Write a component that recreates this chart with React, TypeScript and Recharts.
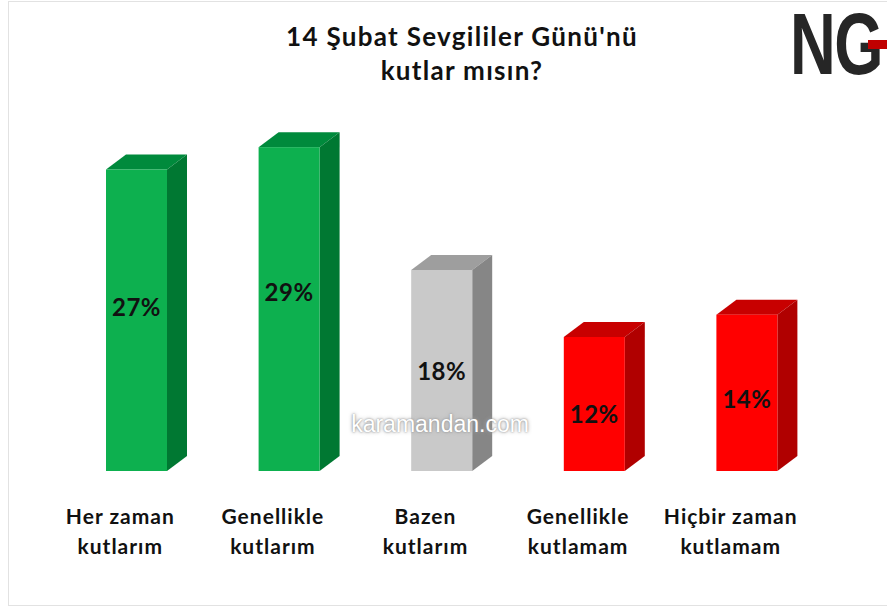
import { BarChart, Bar, XAxis, YAxis, LabelList } from 'recharts';

const categories = ['Her zaman|kutlarım', 'Genellikle|kutlarım', 'Bazen|kutlarım', 'Genellikle|kutlamam', 'Hiçbir zaman|kutlamam'];
const values = [27, 29, 18, 12, 14];
const labels = ['27%', '29%', '18%', '12%', '14%'];

// front / top / side shades per bar
const FRONT = ['#0db04f', '#0db04f', '#c9c9c9', '#ff0000', '#ff0000'];
const TOP = ['#008a3c', '#008a3c', '#9e9e9e', '#c80000', '#c80000'];
const SIDE = ['#007832', '#007832', '#868686', '#b00000', '#b00000'];

const data = categories.map((c, i) => ({ name: c, value: values[i], label: labels[i] }));

const DX = 20;
const DY = 15;

const Box = (props: any) => {
  const { x, y, width, height, index } = props;
  return (
    <g>
      <polygon
        points={`${x},${y} ${x + DX},${y - DY} ${x + width + DX},${y - DY} ${x + width},${y}`}
        fill={TOP[index]}
      />
      <polygon
        points={`${x + width},${y} ${x + width + DX},${y - DY} ${x + width + DX},${y + height - DY} ${x + width},${y + height}`}
        fill={SIDE[index]}
      />
      <rect x={x} y={y} width={width} height={height} fill={FRONT[index]} />
    </g>
  );
};

const CatTick = (props: any) => {
  const { x, y, payload } = props;
  const [a, b] = String(payload.value).split('|');
  return (
    <text x={x - 16} y={y} textAnchor="middle" fontFamily="Lato" fontWeight={700} fontSize={21} letterSpacing={1} fill="#111">
      <tspan x={x - 16} dy={45}>{a}</tspan>
      <tspan x={x - 16} dy={30}>{b}</tspan>
    </text>
  );
};

// excel puts the 3d labels a bit above the middle of the front face
const ValueLabel = (props: any) => {
  const { x, y, width, height, value } = props;
  return (
    <text x={x + width / 2} y={y + height * 0.36 + 28} textAnchor="middle" dominantBaseline="central"
      fontFamily="Lato" fontWeight={700} fontSize={24} letterSpacing={0.5} fill="#111">
      {value}
    </text>
  );
};

export default function App() {
  return (
    <div style={{ position: 'absolute', left: 0, top: 0, width: 887, height: 608, background: '#fff', overflow: 'hidden' }}>
      <div style={{ position: 'absolute', left: 8, top: 1, width: 900, height: 605, border: '1px solid #e2e2e2', boxSizing: 'border-box' }} />
      <div style={{ position: 'absolute', left: 0, top: 19, width: 924, textAlign: 'center', fontFamily: 'Lato', fontWeight: 700, fontSize: 26, letterSpacing: 1.3, lineHeight: '34px', color: '#111' }}>
        14 Şubat Sevgililer Günü'nü<br />kutlar mısın?
      </div>
      <div style={{ position: 'absolute', left: 790, top: -7, fontFamily: 'Liberation Sans', fontWeight: 700, fontSize: 88, color: '#262626', transform: 'scaleX(0.72)', transformOrigin: 'left top', letterSpacing: -2 }}>
        NG
      </div>
      <div style={{ position: 'absolute', left: 868, top: 40, width: 19, height: 9, background: '#c00000' }} />
      <BarChart width={887} height={608} data={data} margin={{ top: 136, right: 64, bottom: 37, left: 60 }} style={{ position: 'absolute', left: 0, top: 0 }}>
        <XAxis dataKey="name" axisLine={false} tickLine={false} height={100} interval={0} tick={<CatTick />} />
        <YAxis hide domain={[0, 30]} />
        <Bar dataKey="value" barSize={61} shape={<Box />} isAnimationActive={false}>
          <LabelList dataKey="label" content={<ValueLabel />} />
        </Bar>
      </BarChart>
      <div style={{ position: 'absolute', left: 340, top: 411, width: 200, textAlign: 'center', fontFamily: 'Liberation Sans', fontSize: 23, color: '#fff', textShadow: '0 0 2px #888, 0 0 4px #aaa' }}>
        karamandan.com
      </div>
    </div>
  );
}
